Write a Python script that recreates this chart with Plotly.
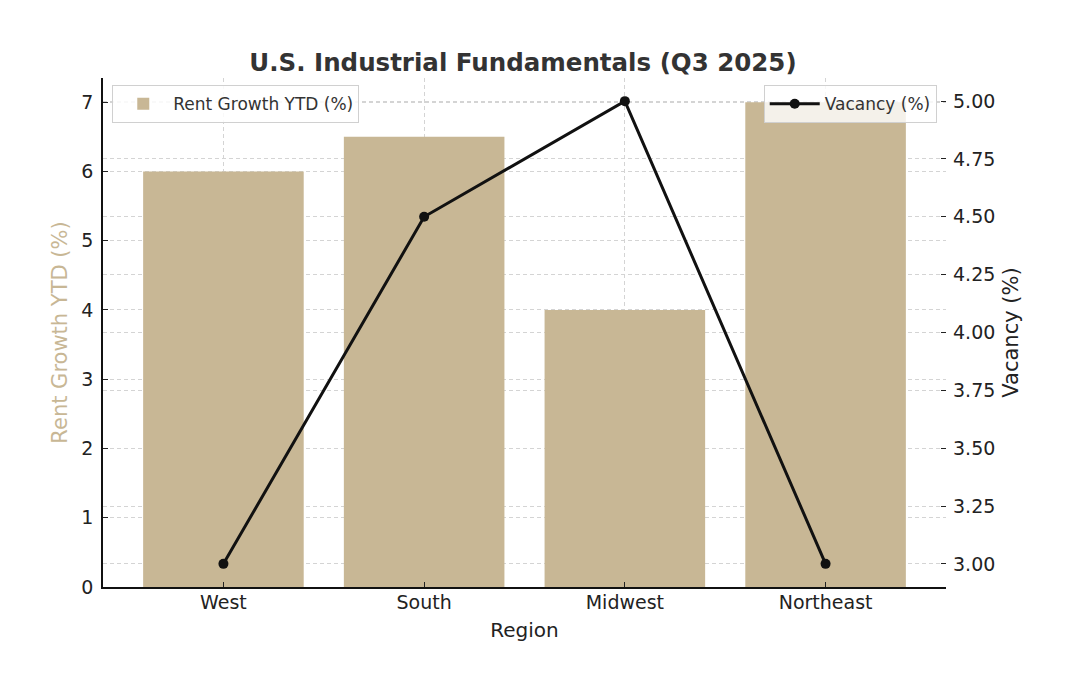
import plotly.graph_objects as go

# Datos por region (Q3 2025)
regiones = ["West", "South", "Midwest", "Northeast"]
rent_growth = [6.0, 6.5, 4.0, 7.0]
vacancy = [3.0, 4.5, 5.0, 3.0]

left_ticks = [0, 1, 2, 3, 4, 5, 6, 7]
right_ticks = [3.00, 3.25, 3.50, 3.75, 4.00, 4.25, 4.50, 4.75, 5.00]

x_pos = list(range(len(regiones)))

fig = go.Figure()

fig.add_trace(go.Bar(
    x=x_pos,
    y=rent_growth,
    name="Rent Growth YTD (%)",
    marker=dict(color="#c8b795", line=dict(width=0)),
    width=0.8,
    legend="legend",
    showlegend=True,
))

fig.add_trace(go.Scatter(
    x=x_pos,
    y=vacancy,
    mode="lines+markers",
    name="Vacancy (%)",
    line=dict(color="#111111", width=3),
    marker=dict(size=10, color="#111111"),
    yaxis="y2",
    legend="legend2",
    showlegend=True,
))

grid = dict(showgrid=True, gridcolor="#d4d4d4", griddash="4px,3px", gridwidth=1)
font_family = "DejaVu Sans"

fig.update_layout(
    width=1080,
    height=676,
    showlegend=True,
    paper_bgcolor="white",
    plot_bgcolor="white",
    font=dict(family=font_family, size=19, color="#222222"),
    margin=dict(l=95, r=142, t=70, b=97),
    title=dict(
        text="<b>U.S. Industrial Fundamentals (Q3 2025)</b>",
        x=515 / 1080, xanchor="center", xref="container",
        y=1 - 54 / 676, yanchor="middle", yref="container",
        font=dict(size=24.5, color="#333333"),
    ),
    xaxis=dict(
        range=[-0.6, 3.6],
        tickvals=x_pos,
        ticktext=regiones,
        ticks="inside", ticklen=5, tickcolor="#222222",
        ticklabelstandoff=-3,
        showline=True, linecolor="#111111", linewidth=1.5,
        title=dict(text="Region", standoff=11, font=dict(size=20)),
        zeroline=False,
        **grid,
    ),
    yaxis=dict(
        range=[0, 7.35],
        tickvals=left_ticks,
        ticks="inside", ticklen=5, tickcolor="#222222",
        ticklabelstandoff=4,
        showline=True, linecolor="#111111", linewidth=1.5,
        title=dict(text="Rent Growth YTD (%)", font=dict(color="#c8b795", size=21), standoff=8),
        zeroline=False,
        **grid,
    ),
    yaxis2=dict(
        range=[2.9, 5.1],
        tickvals=right_ticks,
        tickformat=".2f",
        overlaying="y",
        side="right",
        ticks="inside", ticklen=5, tickcolor="#222222",
        ticklabelstandoff=6,
        showline=False,
        title=dict(text="Vacancy (%)", standoff=8, font=dict(size=21)),
        zeroline=False,
        **grid,
    ),
    legend=dict(
        x=0.011, y=0.986, xanchor="left", yanchor="top",
        bgcolor="rgba(255,255,255,0.85)", bordercolor="#d0d0d0", borderwidth=1,
        font=dict(size=17, color="#333333"),
        itemwidth=50,
    ),
    legend2=dict(
        x=0.989, y=0.986, xanchor="right", yanchor="top",
        bgcolor="rgba(255,255,255,0.8)", bordercolor="#d0d0d0", borderwidth=1,
        font=dict(size=17, color="#333333"),
        itemwidth=50,
    ),
    bargap=0.2,
)

fig.write_html("out.html")
